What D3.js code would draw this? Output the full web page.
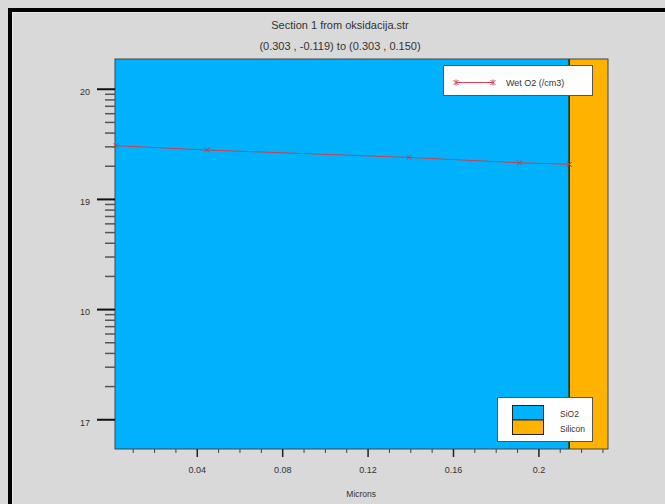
<!DOCTYPE html>
<html><head><meta charset="utf-8">
<script src="https://cdn.jsdelivr.net/npm/d3@7"></script>
<style>
html,body{margin:0;padding:0;background:#d9d9d9;overflow:hidden;}
svg{display:block;}
text{font-family:"Liberation Sans",Arial,sans-serif;fill:#333;}
</style></head>
<body>
<svg id="c" width="665" height="504"></svg>
<script>
// ---- data ----
const titleLines = ["Section 1 from oksidacija.str", "(0.303 , -0.119) to (0.303 , 0.150)"];
const xLabel = "Microns";
const seriesName = "Wet O2 (/cm3)";
const pointX = [0.0022, 0.0447, 0.1394, 0.1911, 0.2145];
const pointY = [3.04e19, 2.78e19, 2.38e19, 2.13e19, 2.06e19];
const regionNames = ["SiO2", "Silicon"];
const regionStart = [0.0017, 0.2144];
const regionEnd = [0.2144, 0.2326];
const regionColors = ["#00b2fc", "#ffb300"];
const xMajorTicks = [0.04, 0.08, 0.12, 0.16, 0.2];
const xMajorLabels = ["0.04", "0.08", "0.12", "0.16", "0.2"];
const xMinorTicks = [0.01,0.02,0.03,0.05,0.06,0.07,0.09,0.10,0.11,0.13,0.14,0.15,0.17,0.18,0.19,0.21,0.22,0.23];
const yMajorTicks = [1e17, 1e18, 1e19, 1e20];
const yMajorLabels = ["17", "10", "19", "20"];
const yMinorDecades = [1e17, 1e18, 1e19];
const yMinorMult = [2, 3, 4, 5, 6, 7, 8, 9];

// ---- layout ----
const L = 115, R = 608, T = 59, B = 449;
const svg = d3.select("#c");

// frame (top and left edges only are visible)
svg.append("rect").attr("x", 8).attr("y", 8).attr("width", 657).attr("height", 4).attr("fill", "#000");
svg.append("rect").attr("x", 8).attr("y", 8).attr("width", 4).attr("height", 496).attr("fill", "#000");
svg.append("line").attr("x1", 12.5).attr("x2", 665).attr("y1", 12.5).attr("y2", 12.5).attr("stroke", "#e8e8e8");
svg.append("line").attr("x1", 12.5).attr("x2", 12.5).attr("y1", 12.5).attr("y2", 504).attr("stroke", "#e8e8e8");

const x = d3.scaleLinear().domain([regionStart[0], regionEnd[1]]).range([L, R]);
const y = d3.scaleLog().domain([Math.pow(10, 16.73), Math.pow(10, 20.27)]).range([B, T]);

// regions
regionNames.forEach((n, i) => {
  svg.append("rect").attr("x", x(regionStart[i])).attr("y", T)
    .attr("width", x(regionEnd[i]) - x(regionStart[i])).attr("height", B - T)
    .attr("fill", regionColors[i]);
});
svg.append("line").attr("x1", x(regionStart[1])).attr("x2", x(regionStart[1]))
  .attr("y1", T).attr("y2", B).attr("stroke", "#222").attr("stroke-width", 1.5);
svg.append("rect").attr("x", L).attr("y", T).attr("width", R - L).attr("height", B - T)
  .attr("fill", "none").attr("stroke", "#444").attr("stroke-width", 1);

// x axis ticks
const xAxis = d3.axisBottom(x).tickValues(xMajorTicks).tickSize(8).tickPadding(10)
  .tickFormat((d, i) => xMajorLabels[i]);
const gx = svg.append("g").attr("transform", `translate(0,${B})`).call(xAxis);
gx.select(".domain").remove();
gx.selectAll("line").attr("stroke", "#222").attr("stroke-width", 1.5);
gx.selectAll("text").attr("font-size", 9).attr("fill", "#444")
  .attr("font-family", "Liberation Sans, Arial, sans-serif");
const gxm = svg.append("g").attr("transform", `translate(0,${B})`)
  .call(d3.axisBottom(x).tickValues(xMinorTicks).tickSize(4).tickFormat(""));
gxm.select(".domain").remove();
gxm.selectAll("line").attr("stroke", "#444");

svg.append("text").attr("x", x(0.117)).attr("y", 497).attr("text-anchor", "middle")
  .attr("font-size", 8.5).attr("fill", "#444").text(xLabel);

// y axis ticks
const yAxis = d3.axisLeft(y).tickValues(yMajorTicks).tickSize(18).tickPadding(7)
  .tickFormat((d, i) => yMajorLabels[i]);
const gy = svg.append("g").attr("transform", `translate(${L},0)`).call(yAxis);
gy.select(".domain").remove();
gy.selectAll("line").attr("stroke", "#111").attr("stroke-width", 2);
gy.selectAll("text").attr("font-size", 9).attr("fill", "#444").attr("dy", "0.65em")
  .attr("font-family", "Liberation Sans, Arial, sans-serif");
const yMinor = [];
yMinorDecades.forEach(d => yMinorMult.forEach(m => yMinor.push(d * m)));
const gym = svg.append("g").attr("transform", `translate(${L},0)`)
  .call(d3.axisLeft(y).tickValues(yMinor).tickSize(10).tickFormat(""));
gym.select(".domain").remove();
gym.selectAll("line").attr("stroke", "#555").attr("stroke-width", 1.5);

// series line
const pts = pointX.map((v, i) => [v, pointY[i]]);
svg.append("path").datum(pts)
  .attr("d", d3.line().x(d => x(d[0])).y(d => y(d[1])))
  .attr("fill", "none").attr("stroke", "#c8404e").attr("stroke-width", 1);
const mk = 2.5;
svg.append("g").selectAll("path").data(pts).join("path")
  .attr("d", d => {
    const px = x(d[0]), py = y(d[1]);
    return `M${px - mk},${py - mk}L${px + mk},${py + mk}M${px - mk},${py + mk}L${px + mk},${py - mk}`;
  })
  .attr("stroke", "#d03545").attr("stroke-width", 1);

// titles
svg.append("text").attr("x", 340).attr("y", 29).attr("text-anchor", "middle")
  .attr("font-size", 11).attr("fill", "#444").text(titleLines[0]);
svg.append("text").attr("x", 340).attr("y", 50).attr("text-anchor", "middle")
  .attr("font-size", 11).attr("fill", "#444").text(titleLines[1]);

// legend top
svg.append("rect").attr("x", 443.5).attr("y", 65.5).attr("width", 149).attr("height", 30)
  .attr("fill", "#fff").attr("stroke", "#555").attr("stroke-width", 1);
const ly = 82.5, lx1 = 456, lx2 = 493;
svg.append("line").attr("x1", lx1).attr("x2", lx2).attr("y1", ly).attr("y2", ly)
  .attr("stroke", "#e04050").attr("stroke-width", 1);
[lx1, lx2].forEach(px => {
  svg.append("path")
    .attr("d", `M${px - mk},${ly - mk}L${px + mk},${ly + mk}M${px - mk},${ly + mk}L${px + mk},${ly - mk}M${px},${ly - 3}L${px},${ly + 3}`)
    .attr("stroke", "#e04050").attr("stroke-width", 1);
});
svg.append("text").attr("x", 506).attr("y", 86).attr("font-size", 9).attr("fill", "#444").text(seriesName);

// legend bottom
svg.append("rect").attr("x", 497.5).attr("y", 397.5).attr("width", 95).attr("height", 44)
  .attr("fill", "#fff").attr("stroke", "#555").attr("stroke-width", 1);
regionNames.forEach((n, i) => {
  svg.append("rect").attr("x", 512.5).attr("y", 405.5 + i * 14.5).attr("width", 31).attr("height", 14.5)
    .attr("fill", regionColors[i]).attr("stroke", "#222").attr("stroke-width", 1);
  svg.append("text").attr("x", 560).attr("y", 416.5 + i * 15.5).attr("font-size", 8.5).attr("fill", "#444").text(n);
});
</script>
</body></html>
